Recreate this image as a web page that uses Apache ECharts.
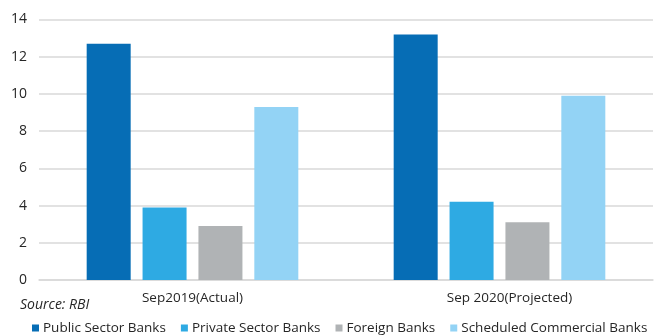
<!DOCTYPE html>
<html>
<head>
<meta charset="utf-8">
<script src="https://cdn.jsdelivr.net/npm/echarts@6/dist/echarts.min.js"></script>
<style>
  html, body { margin: 0; padding: 0; background: #fff; }
  #chart { width: 655px; height: 335px; }
</style>
</head>
<body>
<div id="chart"></div>
<script>
// 数据
var categories = ['Sep2019(Actual)', 'Sep 2020(Projected)'];
var seriesNames = ['Public Sector Banks', 'Private Sector Banks', 'Foreign Banks', 'Scheduled Commercial Banks'];
var publicSector = [12.7, 13.2];
var privateSector = [3.9, 4.2];
var foreignBanks = [2.9, 3.1];
var scheduledCommercial = [9.3, 9.9];
var colors = ['#066db5', '#2eaae3', '#b0b3b5', '#93d3f5'];
var fontFamily = '"Open Sans", sans-serif';

var myChart = echarts.init(document.getElementById('chart'));

var allData = [publicSector, privateSector, foreignBanks, scheduledCommercial];
var series = [];
for (var i = 0; i < seriesNames.length; i++) {
    series.push({
        name: seriesNames[i],
        type: 'bar',
        barWidth: 44,
        barGap: '27%',
        itemStyle: { color: colors[i] },
        data: allData[i]
    });
}

var option = {
    animation: false,
    textStyle: { fontFamily: fontFamily },
    grid: {
        left: 39,
        right: 2,
        top: 19.5,
        bottom: 55
    },
    legend: {
        left: 32,
        right: 0,
        top: 321,
        padding: 0,
        icon: 'rect',
        itemWidth: 7,
        itemHeight: 7,
        itemGap: 15,
        textStyle: { fontSize: 13.5, color: '#262626', fontFamily: fontFamily, padding: [0, 0, 0, -1] },
        data: seriesNames
    },
    graphic: [{
        type: 'text',
        left: 20,
        top: 298,
        style: {
            text: 'Source: RBI',
            fontSize: 14,
            fontStyle: 'italic',
            fill: '#262626',
            fontFamily: fontFamily
        }
    }],
    xAxis: {
        type: 'category',
        data: categories,
        axisLine: { lineStyle: { color: '#d9d9d9', width: 1.5 } },
        axisTick: { show: false },
        axisLabel: {
            fontSize: 13.5,
            color: '#262626',
            margin: 11,
            // 第二个标签在原图中略微偏右
            formatter: function (value, index) {
                return index === 1 ? '{r|' + value + '}' : value;
            },
            rich: {
                r: { fontSize: 13.5, color: '#262626', padding: [0, 0, 0, 20] }
            }
        }
    },
    yAxis: {
        type: 'value',
        min: 0,
        max: 14,
        interval: 2,
        axisLine: { show: false },
        axisTick: { show: false },
        axisLabel: { fontSize: 14, color: '#262626', margin: 12 },
        splitLine: { lineStyle: { color: '#d9d9d9', width: 1.5 } }
    },
    series: series
};
myChart.setOption(option);
</script>
</body>
</html>
